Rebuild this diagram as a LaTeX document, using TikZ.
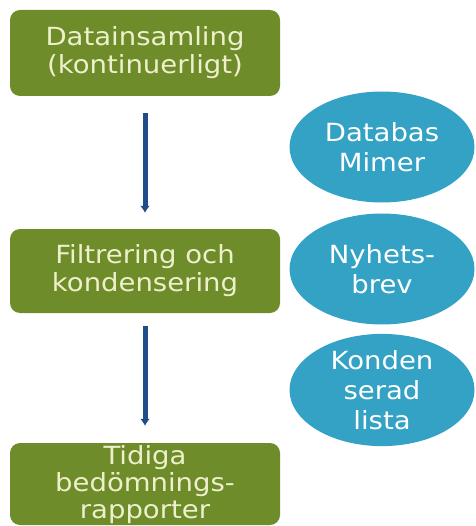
\documentclass[tikz,border=0pt]{standalone}
\usepackage{fontspec}
\setmainfont{DejaVu Sans}[FakeStretch=1.1]
\usetikzlibrary{shapes.geometric,arrows.meta}
\definecolor{boxgreen}{HTML}{6E8C2A}
\definecolor{boxtext}{HTML}{EEF0CC}
\definecolor{ovalblue}{HTML}{33A2C4}
\definecolor{arrownavy}{HTML}{1E4D8A}

\begin{document}
\begin{tikzpicture}[x=1pt,y=-1pt,
	stepbox/.style={rectangle, rounded corners=10pt, fill=boxgreen, text=boxtext,
		minimum width=270pt, inner sep=0pt, align=center,
		font=\fontsize{25}{28}\selectfont},
	source/.style={ellipse, fill=ovalblue, text=white, minimum width=185pt,
		minimum height=111pt, inner sep=0pt, align=center,
		font=\fontsize{25}{30}\selectfont},
	flow/.style={arrownavy, line width=5pt, -{Latex[length=7pt,width=10pt]}}]
	\useasboundingbox (0,0) rectangle (475,526);
	\clip (0,0) rectangle (475,526);
	
	% steps on the left
	\node[stepbox, minimum height=86pt] (collect) at (145,53) {Datainsamling\\(kontinuerligt)};
	\node[stepbox, minimum height=84pt] (filter) at (145,271) {Filtrering och\\kondensering};
	\node[stepbox, minimum height=82pt] (report) at (145,484) {};
	\node[text=boxtext, align=center, font=\fontsize{25}{27}\selectfont,
		anchor=base] (reporttext) at (145,518) {Tidiga\\bedömnings-\\rapporter};
	
	% sources on the right
	\node[source] (mimer) at (382,147) {Databas\\Mimer};
	\node[source] (news) at (382,269) {Nyhets-\\brev};
	\node[source] (list) at (382,390) {Konden\\serad\\lista};
	
	\draw[flow, shorten <=17pt, shorten >=16pt] (collect.south) -- (filter.north);
	\draw[flow, shorten <=13pt, shorten >=17pt] (filter.south) -- (report.north);
\end{tikzpicture}
\end{document}
